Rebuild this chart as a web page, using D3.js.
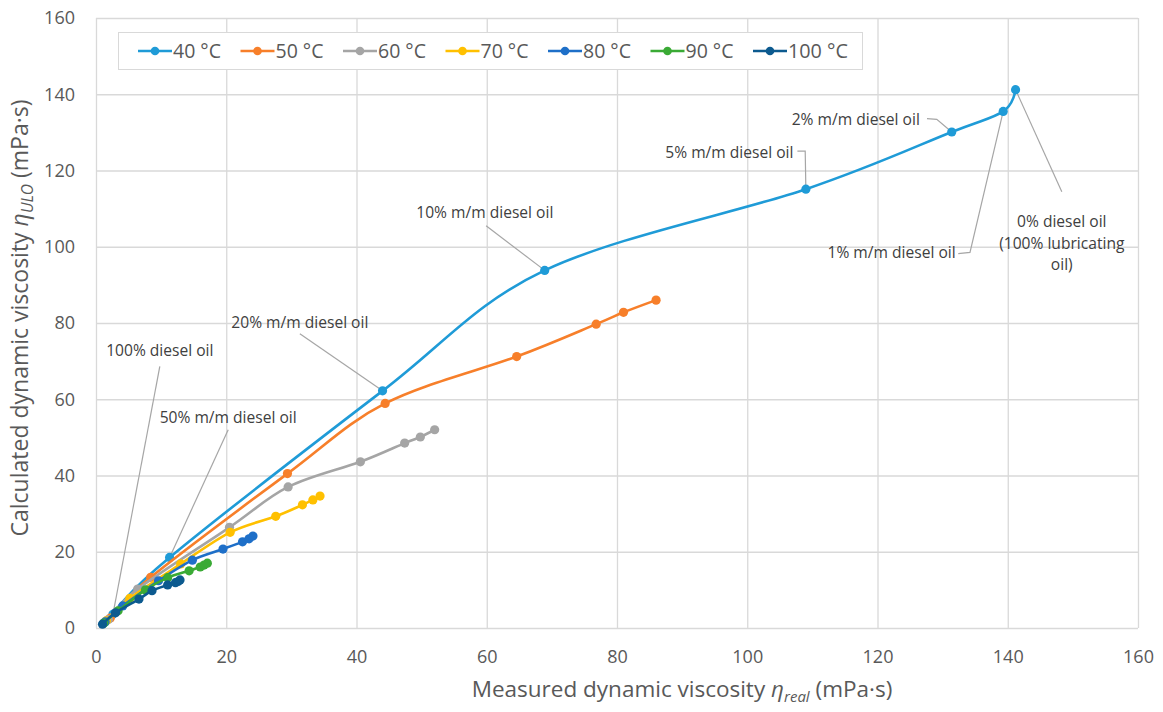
<!DOCTYPE html>
<html><head><meta charset="utf-8">
<script src="https://cdn.jsdelivr.net/npm/d3@7"></script>
<style>
body{margin:0;background:#fff;}
svg{display:block;font-family:"Open Sans","Noto Sans",sans-serif;}
</style></head>
<body><svg id="c" width="1163" height="712"></svg>
<script>
// ---- data ----
const seriesNames = ["40 °C","50 °C","60 °C","70 °C","80 °C","90 °C","100 °C"];
const seriesColors = ["#1f9bd7","#f77f2a","#a5a5a5","#ffc000","#1e6fc8","#3aaa35","#0c5a8f"];
// points ordered: 100%, 50%, 20%, 10%, 5%, 2%, 1%, 0% diesel oil
const x40 = [2.6, 11.3, 44.0, 68.9, 109.0, 131.4, 139.3, 141.2];
const y40 = [3.6, 18.5, 62.2, 93.8, 115.1, 130.1, 135.5, 141.2];
const x50 = [2.2, 8.4, 29.4, 44.4, 64.6, 76.8, 81.0, 86.0];
const y50 = [2.6, 13.3, 40.5, 58.9, 71.2, 79.7, 82.8, 86.0];
const x60 = [1.9, 6.4, 20.5, 29.5, 40.6, 47.4, 49.8, 52.0];
const y60 = [2.2, 10.2, 26.4, 37.0, 43.6, 48.5, 50.1, 52.0];
const x70 = [1.6, 5.2, 13.0, 20.6, 27.6, 31.7, 33.3, 34.4];
const y70 = [1.9, 7.8, 16.8, 25.1, 29.3, 32.3, 33.6, 34.6];
const x80 = [1.4, 4.1, 9.6, 14.8, 19.5, 22.5, 23.5, 24.1];
const y80 = [1.6, 5.8, 12.4, 17.8, 20.7, 22.6, 23.4, 24.1];
const x90 = [1.2, 3.4, 7.6, 11.0, 14.3, 16.0, 16.6, 17.1];
const y90 = [1.3, 4.5, 10.0, 13.2, 15.0, 16.0, 16.5, 17.0];
const x100 = [1.0, 3.0, 6.6, 8.6, 11.0, 12.2, 12.6, 12.9];
const y100 = [1.0, 4.0, 7.6, 9.8, 11.3, 11.9, 12.2, 12.6];
const xValues = [x40,x50,x60,x70,x80,x90,x100];
const yValues = [y40,y50,y60,y70,y80,y90,y100];
const xTicks = [0,20,40,60,80,100,120,140,160];
const yTicks = [0,20,40,60,80,100,120,140,160];
// annotations on the 40 °C series (point index)
const annTexts = [["100% diesel oil"],["50% m/m diesel oil"],["20% m/m diesel oil"],["10% m/m diesel oil"],
  ["5% m/m diesel oil"],["2% m/m diesel oil"],["1% m/m diesel oil"],["0% diesel oil","(100% lubricating","oil)"]];
const annPoint = [0,1,2,3,4,5,6,7];

// ---- layout ----
const W=1163,H=712;
const m={l:96,r:25,t:18,b:84};
const svg=d3.select("#c");
const x=d3.scaleLinear().domain([0,160]).range([m.l,W-m.r]);
const y=d3.scaleLinear().domain([0,160]).range([H-m.b,m.t]);
const grid="#d9d9d9", txt="#595959";

// gridlines
svg.append("g").attr("transform",`translate(0,${H-m.b})`)
  .call(d3.axisBottom(x).tickValues(xTicks).tickSize(-(H-m.b-m.t)).tickFormat(d=>d).tickPadding(22))
  .call(g=>{g.select(".domain").remove();g.selectAll("line").attr("stroke",grid).attr("stroke-width",1.3);
    g.selectAll("text").attr("fill",txt).style("font-size","18px").style("font-family","'Open Sans',sans-serif");});
svg.append("g").attr("transform",`translate(${m.l},0)`)
  .call(d3.axisLeft(y).tickValues(yTicks).tickSize(-(W-m.l-m.r)).tickFormat(d=>d).tickPadding(21))
  .call(g=>{g.select(".domain").remove();g.selectAll("line").attr("stroke",grid).attr("stroke-width",1.3);
    g.selectAll("text").attr("fill",txt).style("font-size","18px").style("font-family","'Open Sans',sans-serif");});

// axis titles
const xt=svg.append("text").attr("x",682).attr("y",697).attr("text-anchor","middle")
  .attr("fill",txt).style("font-size","22.5px");
xt.append("tspan").text("Measured dynamic viscosity ");
xt.append("tspan").attr("font-style","italic").text("η");
xt.append("tspan").attr("font-style","italic").attr("dy",5).style("font-size","15px").text("real");
xt.append("tspan").attr("dy",-5).text(" (mPa·s)");
const yt=svg.append("text").attr("transform",`translate(28,318) rotate(-90)`).attr("text-anchor","middle")
  .attr("fill",txt).style("font-size","23px");
yt.append("tspan").text("Calculated dynamic viscosity ");
yt.append("tspan").attr("font-style","italic").text("η");
yt.append("tspan").attr("font-style","italic").attr("dy",5).style("font-size","15.5px").text("ULO");
yt.append("tspan").attr("dy",-5).text(" (mPa·s)");

// annotations (label positions in data units, leader to the 40 °C points)
const annPos = [
  {lx:9.8, ly:72.8, anchor:"middle", lead:[[9.8,68.6]]},
  {lx:20.3, ly:55.3, anchor:"middle", lead:[[20.3,52.0]]},
  {lx:31.3, ly:80.0, anchor:"middle", lead:[[31.3,77.2]]},
  {lx:59.7, ly:108.9, anchor:"middle", lead:[[59.9,105.5]]},
  {lx:107.1, ly:124.6, anchor:"end", lead:[[107.7,125.1],[108.9,125.1]]},
  {lx:126.5, ly:133.4, anchor:"end", lead:[[127.6,133.6],[129.1,133.4]]},
  {lx:132.0, ly:98.4, anchor:"end", lead:[[132.4,98.2],[134.2,98.5]]},
  {lx:148.3, ly:106.7, anchor:"middle", lead:[[148.3,114.4]]}
];
const annG=svg.append("g");
annPos.forEach((a,i)=>{
  const p=[xValues[0][annPoint[i]], yValues[0][annPoint[i]]];
  const pts=a.lead.concat([p]).map(d=>[x(d[0]),y(d[1])]);
  annG.append("path").attr("d",d3.line()(pts)).attr("fill","none").attr("stroke","#a6a6a6").attr("stroke-width",1.2);
  const t=annG.append("text").attr("x",x(a.lx)).attr("y",y(a.ly)).attr("text-anchor",a.anchor)
    .attr("fill","#404040").style("font-size","15.6px");
  annTexts[i].forEach((s,k)=>t.append("tspan").attr("x",x(a.lx)).attr("dy",k===0?"0.35em":"1.4em").text(s));
});

// series
const line=d3.line().x(d=>x(d[0])).y(d=>y(d[1])).curve(d3.curveCardinal.tension(0));
seriesNames.forEach((n,i)=>{
  const pts=xValues[i].map((v,k)=>[v,yValues[i][k]]);
  const g=svg.append("g");
  g.append("path").attr("d",line(pts)).attr("fill","none").attr("stroke",seriesColors[i]).attr("stroke-width",2.6);
  g.selectAll("circle").data(pts).join("circle").attr("cx",d=>x(d[0])).attr("cy",d=>y(d[1])).attr("r",4.6)
    .attr("fill",seriesColors[i]);
});

// legend
const lg=svg.append("g");
lg.append("rect").attr("x",118.5).attr("y",32.5).attr("width",744).attr("height",37).attr("fill","#fff").attr("stroke","#d9d9d9");
seriesNames.forEach((n,i)=>{
  const lx=138+i*102.5, ly=51;
  lg.append("line").attr("x1",lx).attr("x2",lx+34).attr("y1",ly).attr("y2",ly).attr("stroke",seriesColors[i]).attr("stroke-width",2.6);
  lg.append("circle").attr("cx",lx+17).attr("cy",ly).attr("r",4.3).attr("fill",seriesColors[i]);
  lg.append("text").attr("x",lx+35).attr("y",ly).attr("dy","0.36em").attr("fill",txt)
    .attr("textLength",n.length>5?60:48).attr("lengthAdjust","spacingAndGlyphs")
    .style("font-size","20px").text(n);
});
</script></body></html>
